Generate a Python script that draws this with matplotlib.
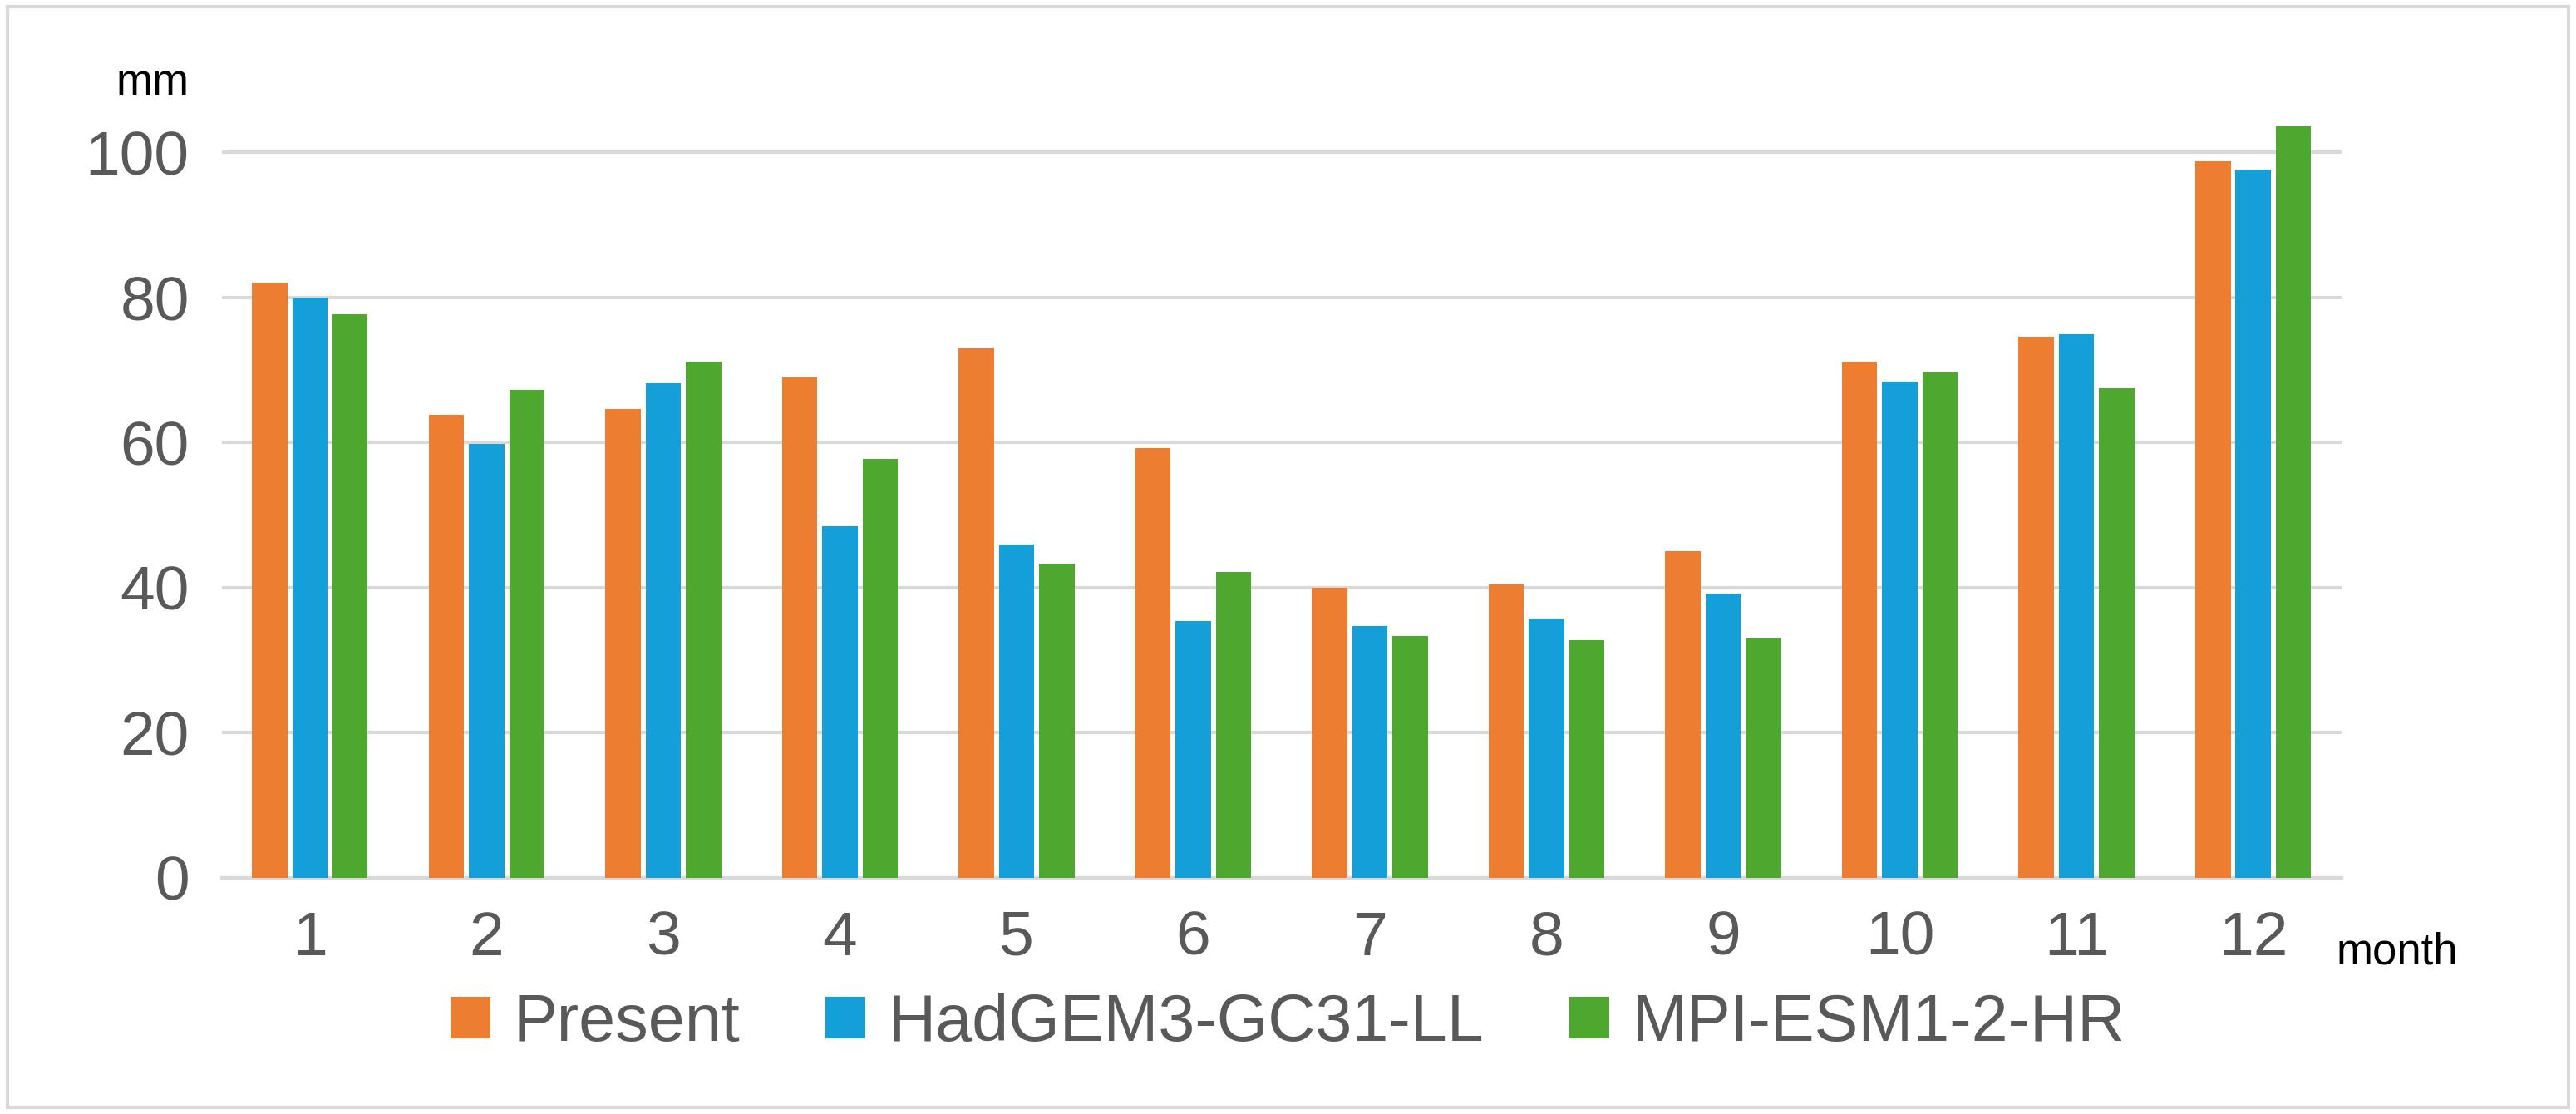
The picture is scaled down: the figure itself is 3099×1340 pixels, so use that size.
import numpy as np
import matplotlib.pyplot as plt
from matplotlib.patches import Rectangle

months = [str(m) for m in range(1, 13)]
present = [82.0, 63.8, 64.6, 69.0, 73.0, 59.2, 40.0, 40.5, 45.0, 71.2, 74.6, 98.8]
hadgem = [80.0, 59.8, 68.2, 48.5, 46.0, 35.4, 34.7, 35.8, 39.2, 68.4, 75.0, 97.6]
mpi = [77.7, 67.3, 71.2, 57.8, 43.3, 42.2, 33.3, 32.8, 33.0, 69.7, 67.5, 103.6]

series = [("Present", present, "#ED7D31"),
          ("HadGEM3-GC31-LL", hadgem, "#149FD8"),
          ("MPI-ESM1-2-HR", mpi, "#4EA72E")]

plt.rcParams['font.family'] = ['Liberation Sans', 'DejaVu Sans']
fig = plt.figure(figsize=(15.495, 6.7), dpi=200)
ax = fig.add_axes([0.086, 0.212, 0.823, 0.70])

x = np.arange(len(months))
w = 0.2
for i, (name, vals, col) in enumerate(series):
    ax.bar(x + (i - 1) * 0.228, vals, width=w, color=col, label=name, zorder=3)

ax.set_xlim(-0.5, 11.5)
ax.set_ylim(0, 107.5)
ax.set_yticks(range(0, 101, 20))
ax.set_xticks(x)
ax.set_xticklabels(months)
ax.tick_params(axis='both', length=0, labelsize=27, colors='#595959', pad=14)
ax.grid(axis='y', color='#D9D9D9', linewidth=1.5, zorder=0)
for s in ['top', 'right', 'left']:
    ax.spines[s].set_visible(False)
ax.spines['bottom'].set_color('#D9D9D9')
ax.spines['bottom'].set_linewidth(1.5)

fig.text(0.045, 0.915, "mm", fontsize=19, color='black')
fig.text(0.907, 0.135, "month", fontsize=19, color='black')

fig.legend(loc='lower center', bbox_to_anchor=(0.5, 0.0), ncol=3, frameon=False,
           fontsize=28.5, labelcolor='#595959', handlelength=0.6, handleheight=0.6,
           handletextpad=0.35, columnspacing=1.3)

fig.patches.append(Rectangle((0.003, 0.006), 0.994, 0.988, transform=fig.transFigure,
                             fill=False, edgecolor='#D9D9D9', linewidth=1.5))

fig.savefig("out.png", dpi=200)
